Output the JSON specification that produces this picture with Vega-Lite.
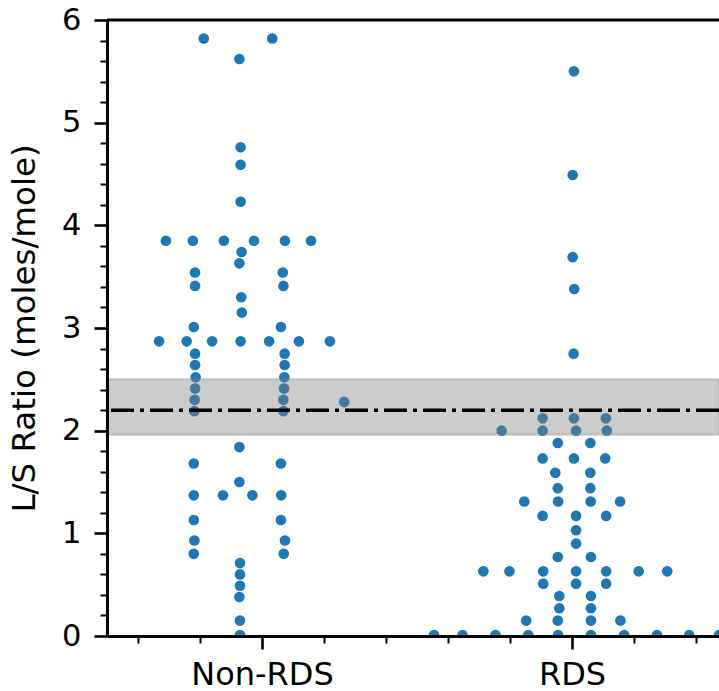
{
  "$schema": "https://vega.github.io/schema/vega-lite/v6.json",
  "width": 612,
  "height": 616,
  "autosize": "none",
  "padding": {"left": 107, "top": 20, "right": 0, "bottom": 55},
  "background": "white",
  "config": {"view": {"stroke": null}, "font": "DejaVu Sans"},
  "datasets": {
    "pts": [
      {"group":"Non-RDS","pos":-0.188,"ratio":5.82},{"group":"Non-RDS","pos":0.033,"ratio":5.82},{"group":"Non-RDS","pos":-0.073,"ratio":5.62},
      {"group":"Non-RDS","pos":-0.069,"ratio":4.76},{"group":"Non-RDS","pos":-0.069,"ratio":4.59},{"group":"Non-RDS","pos":-0.069,"ratio":4.23},
      {"group":"Non-RDS","pos":-0.310,"ratio":3.85},{"group":"Non-RDS","pos":-0.223,"ratio":3.85},{"group":"Non-RDS","pos":-0.123,"ratio":3.85},{"group":"Non-RDS","pos":-0.026,"ratio":3.85},{"group":"Non-RDS","pos":0.074,"ratio":3.85},{"group":"Non-RDS","pos":0.158,"ratio":3.85},
      {"group":"Non-RDS","pos":-0.066,"ratio":3.74},{"group":"Non-RDS","pos":-0.073,"ratio":3.63},
      {"group":"Non-RDS","pos":-0.216,"ratio":3.54},{"group":"Non-RDS","pos":0.067,"ratio":3.54},
      {"group":"Non-RDS","pos":-0.216,"ratio":3.41},{"group":"Non-RDS","pos":0.069,"ratio":3.41},
      {"group":"Non-RDS","pos":-0.067,"ratio":3.30},{"group":"Non-RDS","pos":-0.065,"ratio":3.15},
      {"group":"Non-RDS","pos":-0.220,"ratio":3.01},{"group":"Non-RDS","pos":0.061,"ratio":3.01},
      {"group":"Non-RDS","pos":-0.332,"ratio":2.87},{"group":"Non-RDS","pos":-0.243,"ratio":2.87},{"group":"Non-RDS","pos":-0.161,"ratio":2.87},{"group":"Non-RDS","pos":-0.069,"ratio":2.87},{"group":"Non-RDS","pos":0.023,"ratio":2.87},{"group":"Non-RDS","pos":0.119,"ratio":2.87},{"group":"Non-RDS","pos":0.219,"ratio":2.87},
      {"group":"Non-RDS","pos":-0.216,"ratio":2.75},{"group":"Non-RDS","pos":0.073,"ratio":2.75},
      {"group":"Non-RDS","pos":-0.216,"ratio":2.64},{"group":"Non-RDS","pos":0.073,"ratio":2.64},
      {"group":"Non-RDS","pos":-0.214,"ratio":2.52},{"group":"Non-RDS","pos":0.072,"ratio":2.52},
      {"group":"Non-RDS","pos":-0.216,"ratio":2.41},{"group":"Non-RDS","pos":0.071,"ratio":2.41},
      {"group":"Non-RDS","pos":-0.217,"ratio":2.30},{"group":"Non-RDS","pos":0.069,"ratio":2.30},
      {"group":"Non-RDS","pos":-0.218,"ratio":2.19},{"group":"Non-RDS","pos":0.069,"ratio":2.19},
      {"group":"Non-RDS","pos":0.265,"ratio":2.28},
      {"group":"Non-RDS","pos":-0.073,"ratio":1.84},
      {"group":"Non-RDS","pos":-0.220,"ratio":1.68},{"group":"Non-RDS","pos":0.061,"ratio":1.68},
      {"group":"Non-RDS","pos":-0.073,"ratio":1.50},
      {"group":"Non-RDS","pos":-0.220,"ratio":1.37},{"group":"Non-RDS","pos":-0.126,"ratio":1.37},{"group":"Non-RDS","pos":-0.031,"ratio":1.37},{"group":"Non-RDS","pos":0.062,"ratio":1.37},
      {"group":"Non-RDS","pos":-0.220,"ratio":1.13},{"group":"Non-RDS","pos":0.061,"ratio":1.13},
      {"group":"Non-RDS","pos":-0.218,"ratio":0.93},{"group":"Non-RDS","pos":0.074,"ratio":0.93},
      {"group":"Non-RDS","pos":-0.220,"ratio":0.80},{"group":"Non-RDS","pos":0.070,"ratio":0.80},
      {"group":"Non-RDS","pos":-0.071,"ratio":0.71},{"group":"Non-RDS","pos":-0.071,"ratio":0.60},{"group":"Non-RDS","pos":-0.071,"ratio":0.49},{"group":"Non-RDS","pos":-0.073,"ratio":0.38},{"group":"Non-RDS","pos":-0.071,"ratio":0.15},{"group":"Non-RDS","pos":-0.071,"ratio":0.01},
      {"group":"RDS","pos":1.006,"ratio":5.50},{"group":"RDS","pos":1.002,"ratio":4.49},{"group":"RDS","pos":1.002,"ratio":3.69},{"group":"RDS","pos":1.007,"ratio":3.38},{"group":"RDS","pos":1.005,"ratio":2.75},
      {"group":"RDS","pos":0.905,"ratio":2.12},{"group":"RDS","pos":1.006,"ratio":2.12},{"group":"RDS","pos":1.109,"ratio":2.12},
      {"group":"RDS","pos":0.773,"ratio":2.00},{"group":"RDS","pos":0.905,"ratio":2.00},{"group":"RDS","pos":1.013,"ratio":2.00},{"group":"RDS","pos":1.112,"ratio":2.00},
      {"group":"RDS","pos":0.954,"ratio":1.88},{"group":"RDS","pos":1.059,"ratio":1.88},
      {"group":"RDS","pos":0.905,"ratio":1.73},{"group":"RDS","pos":1.006,"ratio":1.73},{"group":"RDS","pos":1.107,"ratio":1.73},
      {"group":"RDS","pos":0.946,"ratio":1.59},{"group":"RDS","pos":1.059,"ratio":1.59},
      {"group":"RDS","pos":0.954,"ratio":1.44},{"group":"RDS","pos":1.059,"ratio":1.44},
      {"group":"RDS","pos":0.846,"ratio":1.31},{"group":"RDS","pos":0.955,"ratio":1.31},{"group":"RDS","pos":1.060,"ratio":1.31},{"group":"RDS","pos":1.155,"ratio":1.31},
      {"group":"RDS","pos":0.905,"ratio":1.17},{"group":"RDS","pos":1.013,"ratio":1.17},{"group":"RDS","pos":1.110,"ratio":1.17},
      {"group":"RDS","pos":1.013,"ratio":1.03},{"group":"RDS","pos":1.013,"ratio":0.90},
      {"group":"RDS","pos":0.954,"ratio":0.77},{"group":"RDS","pos":1.061,"ratio":0.77},
      {"group":"RDS","pos":0.714,"ratio":0.63},{"group":"RDS","pos":0.798,"ratio":0.63},{"group":"RDS","pos":0.907,"ratio":0.63},{"group":"RDS","pos":1.013,"ratio":0.63},{"group":"RDS","pos":1.110,"ratio":0.63},{"group":"RDS","pos":1.215,"ratio":0.63},{"group":"RDS","pos":1.307,"ratio":0.63},
      {"group":"RDS","pos":0.907,"ratio":0.51},{"group":"RDS","pos":1.013,"ratio":0.51},{"group":"RDS","pos":1.110,"ratio":0.51},
      {"group":"RDS","pos":0.959,"ratio":0.39},{"group":"RDS","pos":1.061,"ratio":0.39},
      {"group":"RDS","pos":0.959,"ratio":0.27},{"group":"RDS","pos":1.061,"ratio":0.27},
      {"group":"RDS","pos":0.852,"ratio":0.15},{"group":"RDS","pos":0.954,"ratio":0.15},{"group":"RDS","pos":1.061,"ratio":0.15},{"group":"RDS","pos":1.156,"ratio":0.15},
      {"group":"RDS","pos":0.555,"ratio":0.01},{"group":"RDS","pos":0.647,"ratio":0.01},{"group":"RDS","pos":0.753,"ratio":0.01},{"group":"RDS","pos":0.859,"ratio":0.01},{"group":"RDS","pos":0.955,"ratio":0.01},{"group":"RDS","pos":1.061,"ratio":0.01},{"group":"RDS","pos":1.168,"ratio":0.01},{"group":"RDS","pos":1.274,"ratio":0.01},{"group":"RDS","pos":1.378,"ratio":0.01},{"group":"RDS","pos":1.474,"ratio":0.01}
    ],
    "band": [{"lo": 1.96, "hi": 2.5}],
    "ref": [{"v": 2.2}],
    "top": [{"v": 6}]
  },
  "layer": [
    {
      "data": {"name": "pts"},
      "mark": {"type": "circle", "size": 113, "color": "#1f77b4", "opacity": 1, "clip": true},
      "encoding": {
        "x": {
          "field": "pos", "type": "quantitative",
          "scale": {"domain": [-0.5, 1.474], "nice": false, "zero": false},
          "axis": {
            "orient": "bottom",
            "title": null,
            "values": [0, 1],
            "labelExpr": "datum.value < 0.5 ? 'Non-RDS' : 'RDS'",
            "labelFontSize": 32, "labelColor": "black", "labelPadding": 10,
            "labelFlush": false,
            "tickSize": 13, "tickWidth": 2.6,
            "tickColor": "black", "domainColor": "black", "domainWidth": 3,
            "grid": false, "zindex": 1
          }
        },
        "y": {
          "field": "ratio", "type": "quantitative",
          "scale": {"domain": [0, 6], "nice": false, "zero": false},
          "axis": {
            "orient": "left",
            "title": "L/S Ratio (moles/mole)",
            "titleFontSize": 32.5, "titleFontWeight": "normal", "titleColor": "black", "titlePadding": 20,
            "values": [0, 1, 2, 3, 4, 5, 6],
            "format": "d",
            "labelFontSize": 30.5, "labelColor": "black", "labelPadding": 13,
            "labelFlush": false,
            "tickSize": 13, "tickWidth": 2.6,
            "tickColor": "black", "domainColor": "black", "domainWidth": 3,
            "grid": false, "zindex": 1
          }
        }
      }
    },
    {
      "data": {"name": "pts"},
      "mark": {"type": "point", "opacity": 0},
      "encoding": {
        "x": {
          "field": "pos", "type": "quantitative",
          "axis": {
            "orient": "bottom", "title": null,
            "values": [-0.4, -0.2, 0.2, 0.4, 0.6, 0.8, 1.2, 1.4],
            "labels": false, "domain": false, "grid": false,
            "tickSize": 7, "tickWidth": 2, "tickColor": "black", "zindex": 1
          }
        },
        "y": {
          "field": "ratio", "type": "quantitative",
          "axis": {
            "orient": "left", "title": null,
            "values": [0.2,0.4,0.6,0.8,1.2,1.4,1.6,1.8,2.2,2.4,2.6,2.8,3.2,3.4,3.6,3.8,4.2,4.4,4.6,4.8,5.2,5.4,5.6,5.8],
            "labels": false, "domain": false, "grid": false,
            "tickSize": 7, "tickWidth": 2, "tickColor": "black", "zindex": 1
          }
        }
      }
    },
    {
      "data": {"name": "band"},
      "mark": {"type": "rect", "color": "#808080", "fillOpacity": 0.4, "stroke": "#808080", "strokeOpacity": 0.3, "strokeWidth": 2.5},
      "encoding": {
        "y": {"field": "lo", "type": "quantitative", "axis": null},
        "y2": {"field": "hi"}
      }
    },
    {
      "data": {"name": "ref"},
      "mark": {"type": "rule", "color": "black", "strokeWidth": 3.5, "strokeDash": [23, 6, 4, 6]},
      "encoding": {"y": {"field": "v", "type": "quantitative", "axis": null}}
    },
    {
      "data": {"name": "top"},
      "mark": {"type": "rule", "color": "black", "strokeWidth": 3},
      "encoding": {"y": {"field": "v", "type": "quantitative", "axis": null}}
    }
  ],
  "resolve": {"axis": {"x": "independent", "y": "independent"}}
}
